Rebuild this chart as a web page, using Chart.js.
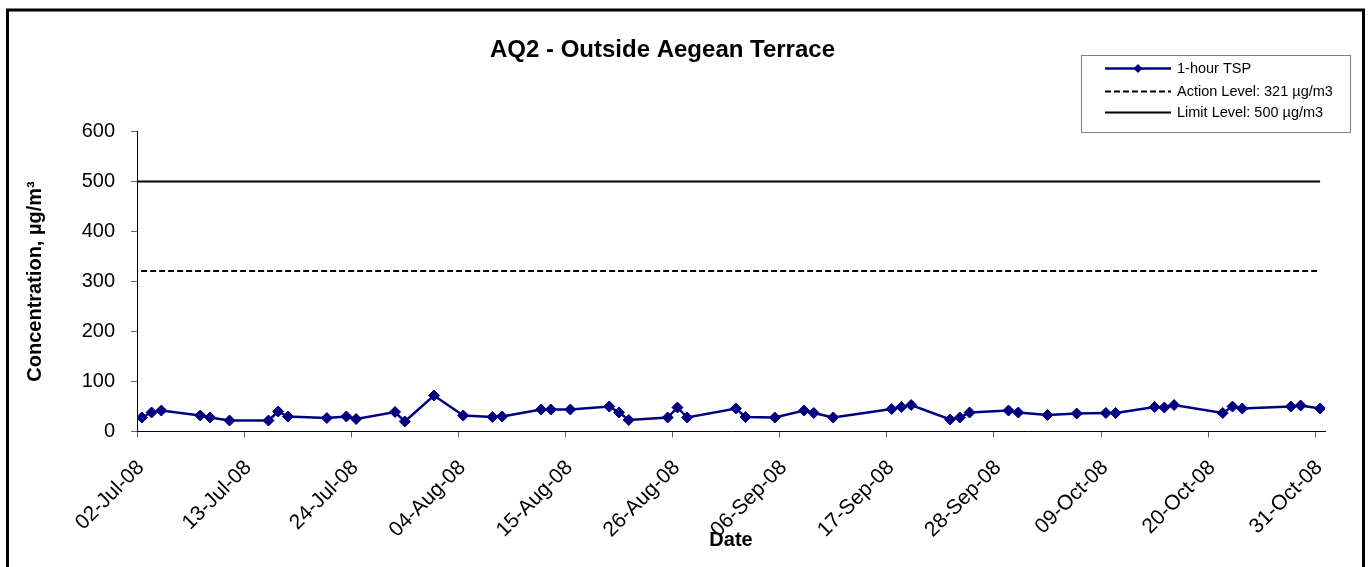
<!DOCTYPE html>
<html><head><meta charset="utf-8">
<script src="https://cdn.jsdelivr.net/npm/chart.js@4/dist/chart.umd.min.js"></script>
<style>html,body{margin:0;padding:0;background:#fff;}#wrap{width:1370px;height:567px;position:relative;}</style>
</head><body><div id="wrap"><canvas id="c"></canvas></div>
<script>
const chartTitle = "AQ2 - Outside Aegean Terrace";
const xAxisTitle = "Date";
const yAxisTitle = "Concentration, µg/m³";
const axisStart = "02-Jul-08";
const axisEnd = "01-Nov-08";
const tickLabels = ["02-Jul-08","13-Jul-08","24-Jul-08","04-Aug-08","15-Aug-08","26-Aug-08","06-Sep-08","17-Sep-08","28-Sep-08","09-Oct-08","20-Oct-08","31-Oct-08"];
const yMin = 0, yMax = 600, yStep = 100;
const tspDates = ["02-Jul-08","03-Jul-08","04-Jul-08","08-Jul-08","09-Jul-08","11-Jul-08","15-Jul-08","16-Jul-08","17-Jul-08","21-Jul-08","23-Jul-08","24-Jul-08","28-Jul-08","29-Jul-08","01-Aug-08","04-Aug-08","07-Aug-08","08-Aug-08","12-Aug-08","13-Aug-08","15-Aug-08","19-Aug-08","20-Aug-08","21-Aug-08","25-Aug-08","26-Aug-08","27-Aug-08","01-Sep-08","02-Sep-08","05-Sep-08","08-Sep-08","09-Sep-08","11-Sep-08","17-Sep-08","18-Sep-08","19-Sep-08","23-Sep-08","24-Sep-08","25-Sep-08","29-Sep-08","30-Sep-08","03-Oct-08","06-Oct-08","09-Oct-08","10-Oct-08","14-Oct-08","15-Oct-08","16-Oct-08","21-Oct-08","22-Oct-08","23-Oct-08","28-Oct-08","29-Oct-08","31-Oct-08"];
const tspValues = [28,38,42,32,28,22,22,40,30,27,30,25,39,20,72,32,29,30,44,44,44,50,38,23,28,48,28,46,29,28,42,37,28,45,49,53,24,28,38,42,38,33,36,37,37,49,48,53,37,50,46,50,52,46];
const levelDates = ["01-Jul-08","31-Oct-08"];
const actionLevel = 321;
const limitLevel = 500;
const seriesNames = ["1-hour TSP","Action Level: 321 µg/m3","Limit Level: 500 µg/m3"];

const MONTHS = ["Jan","Feb","Mar","Apr","May","Jun","Jul","Aug","Sep","Oct","Nov","Dec"];
const parseDate = s => { const p = s.split('-'); return Date.UTC(2000 + Number(p[2]), MONTHS.indexOf(p[1]), Number(p[0])); };
const t0 = parseDate(axisStart);
const dayOf = s => (parseDate(s) - t0) / 86400000;
const tickPos = tickLabels.map(dayOf);
const tspPoints = tspDates.map((d, i) => ({x: dayOf(d) + 0.5, y: tspValues[i]}));
const actionPoints = levelDates.map(d => ({x: dayOf(d) + 0.5, y: actionLevel}));
const limitPoints = levelDates.map(d => ({x: dayOf(d) + 0.5, y: limitLevel}));

const FONT = "'Liberation Sans', Arial, sans-serif";
Chart.defaults.font.family = FONT;
Chart.defaults.color = '#000';

const NAVY = '#000080';

const framePlugin = {
  id: 'frame',
  beforeDraw(chart) {
    const ctx = chart.ctx;
    ctx.save();
    ctx.fillStyle = '#fff';
    ctx.fillRect(0, 0, chart.width, chart.height);
    ctx.strokeStyle = '#000';
    ctx.lineWidth = 3;
    ctx.strokeRect(7.5, 10, 1356, 620);
    ctx.restore();
  },
  afterDraw(chart) {
    const ctx = chart.ctx;
    const ds = chart.data.datasets;
    ctx.save();
    ctx.strokeStyle = '#808080';
    ctx.lineWidth = 1;
    ctx.strokeRect(1081.5, 55.5, 269, 77);
    const rows = [68.5, 91.5, 112.5];
    ds.forEach((d, i) => {
      const y = rows[i];
      ctx.strokeStyle = d.borderColor;
      ctx.lineWidth = d.borderWidth;
      ctx.setLineDash(d.borderDash || []);
      ctx.beginPath();
      ctx.moveTo(1105, y);
      ctx.lineTo(1171, y);
      ctx.stroke();
      ctx.setLineDash([]);
      if (d.pointRadius > 0) {
        ctx.fillStyle = d.pointBackgroundColor;
        ctx.beginPath();
        ctx.moveTo(1138 - 4.5, y);
        ctx.lineTo(1138, y - 4.5);
        ctx.lineTo(1138 + 4.5, y);
        ctx.lineTo(1138, y + 4.5);
        ctx.closePath();
        ctx.fill();
      }
      ctx.fillStyle = '#000';
      ctx.font = '14.5px ' + FONT;
      ctx.textBaseline = 'middle';
      ctx.textAlign = 'left';
      ctx.fillText(d.label, 1177, y);
    });
    ctx.restore();
  }
};

new Chart(document.getElementById('c'), {
  type: 'line',
  data: {
    datasets: [
      {label: seriesNames[0], data: tspPoints, borderColor: NAVY, backgroundColor: NAVY, borderWidth: 2.5,
       pointStyle: 'rectRot', pointRadius: 5.5, pointBorderWidth: 1, pointBackgroundColor: NAVY, pointBorderColor: NAVY, tension: 0, order: 0},
      {label: seriesNames[1], data: actionPoints, borderColor: '#000', borderWidth: 2, borderDash: [6, 3], pointRadius: 0, tension: 0, order: 1},
      {label: seriesNames[2], data: limitPoints, borderColor: '#000', borderWidth: 2, pointRadius: 0, tension: 0, order: 2}
    ]
  },
  options: {
    responsive: true,
    maintainAspectRatio: false,
    animation: false,
    events: [],
    layout: {padding: {left: 0, right: 45, top: 0, bottom: 0}},
    plugins: {
      legend: {display: false},
      tooltip: {enabled: false},
      title: {display: true, text: chartTitle, color: '#000', font: {size: 24, weight: 'bold'}, padding: {top: 35.6, bottom: 67.1}}
    },
    scales: {
      x: {
        type: 'linear', min: 0, max: dayOf(axisEnd),
        afterBuildTicks: s => { s.ticks = tickPos.map(v => ({value: v})); },
        afterFit: s => { s.height = 135.5; },
        ticks: {autoSkip: false, minRotation: 45, maxRotation: 45, color: '#000', font: {size: 21}, padding: 18, labelOffset: 4,
                callback: (v, i) => tickLabels[i]},
        grid: {drawOnChartArea: false, drawTicks: true, tickLength: 6, color: '#666'},
        border: {display: true, color: '#000', width: 1},
        title: {display: true, text: xAxisTitle, color: '#000', font: {size: 20, weight: 'bold'}, padding: {top: 0, bottom: 15}}
      },
      y: {
        min: yMin, max: yMax,
        afterFit: s => { s.width = 137; },
        ticks: {stepSize: yStep, color: '#000', font: {size: 20}, padding: 16},
        grid: {drawOnChartArea: false, drawTicks: true, tickLength: 6, color: '#666'},
        border: {display: true, color: '#000', width: 1},
        title: {display: true, text: yAxisTitle, color: '#000', font: {size: 20, weight: 'bold'}, padding: {top: 23, bottom: 0}}
      }
    }
  },
  plugins: [framePlugin]
});
</script></body></html>
